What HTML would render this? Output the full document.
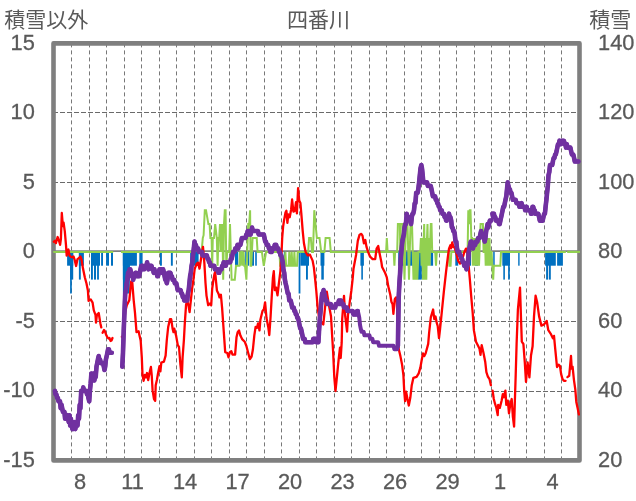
<!DOCTYPE html>
<html><head><meta charset="utf-8"><title>chart</title>
<style>html,body{margin:0;padding:0;background:#fff}body{width:636px;height:501px;overflow:hidden;font-family:"Liberation Sans",sans-serif}svg{display:block}</style>
</head><body>
<svg width="636" height="501" viewBox="0 0 636 501">
<rect width="636" height="501" fill="#fff"/>
<g stroke="#5a5a5a" stroke-width="1" fill="none">
<line x1="71.5" y1="43.4" x2="71.5" y2="460.4" stroke="#787878" stroke-dasharray="4 3"/>
<line x1="89.5" y1="43.4" x2="89.5" y2="460.4" stroke="#787878" stroke-dasharray="4 3"/>
<line x1="106.5" y1="43.4" x2="106.5" y2="460.4" stroke="#787878" stroke-dasharray="4 3"/>
<line x1="124.5" y1="43.4" x2="124.5" y2="460.4" stroke="#787878" stroke-dasharray="4 3"/>
<line x1="141.5" y1="43.4" x2="141.5" y2="460.4" stroke="#787878" stroke-dasharray="4 3"/>
<line x1="159.5" y1="43.4" x2="159.5" y2="460.4" stroke="#787878" stroke-dasharray="4 3"/>
<line x1="176.5" y1="43.4" x2="176.5" y2="460.4" stroke="#787878" stroke-dasharray="4 3"/>
<line x1="194.5" y1="43.4" x2="194.5" y2="460.4" stroke="#787878" stroke-dasharray="4 3"/>
<line x1="211.5" y1="43.4" x2="211.5" y2="460.4" stroke="#787878" stroke-dasharray="4 3"/>
<line x1="229.5" y1="43.4" x2="229.5" y2="460.4" stroke="#787878" stroke-dasharray="4 3"/>
<line x1="246.5" y1="43.4" x2="246.5" y2="460.4" stroke="#787878" stroke-dasharray="4 3"/>
<line x1="264.5" y1="43.4" x2="264.5" y2="460.4" stroke="#787878" stroke-dasharray="4 3"/>
<line x1="281.5" y1="43.4" x2="281.5" y2="460.4" stroke="#787878" stroke-dasharray="4 3"/>
<line x1="299.5" y1="43.4" x2="299.5" y2="460.4" stroke="#787878" stroke-dasharray="4 3"/>
<line x1="316.5" y1="43.4" x2="316.5" y2="460.4" stroke="#787878" stroke-dasharray="4 3"/>
<line x1="334.5" y1="43.4" x2="334.5" y2="460.4" stroke="#787878" stroke-dasharray="4 3"/>
<line x1="351.5" y1="43.4" x2="351.5" y2="460.4" stroke="#787878" stroke-dasharray="4 3"/>
<line x1="369.5" y1="43.4" x2="369.5" y2="460.4" stroke="#787878" stroke-dasharray="4 3"/>
<line x1="386.5" y1="43.4" x2="386.5" y2="460.4" stroke="#787878" stroke-dasharray="4 3"/>
<line x1="404.5" y1="43.4" x2="404.5" y2="460.4" stroke="#787878" stroke-dasharray="4 3"/>
<line x1="421.5" y1="43.4" x2="421.5" y2="460.4" stroke="#787878" stroke-dasharray="4 3"/>
<line x1="439.5" y1="43.4" x2="439.5" y2="460.4" stroke="#787878" stroke-dasharray="4 3"/>
<line x1="456.5" y1="43.4" x2="456.5" y2="460.4" stroke="#787878" stroke-dasharray="4 3"/>
<line x1="474.5" y1="43.4" x2="474.5" y2="460.4" stroke="#787878" stroke-dasharray="4 3"/>
<line x1="491.5" y1="43.4" x2="491.5" y2="460.4" stroke="#787878" stroke-dasharray="4 3"/>
<line x1="509.5" y1="43.4" x2="509.5" y2="460.4" stroke="#787878" stroke-dasharray="4 3"/>
<line x1="526.5" y1="43.4" x2="526.5" y2="460.4" stroke="#787878" stroke-dasharray="4 3"/>
<line x1="544.5" y1="43.4" x2="544.5" y2="460.4" stroke="#787878" stroke-dasharray="4 3"/>
<line x1="561.5" y1="43.4" x2="561.5" y2="460.4" stroke="#787878" stroke-dasharray="4 3"/>
<line x1="53" y1="112.5" x2="579.5" y2="112.5" stroke="#6a6a6a" stroke-dasharray="5 2"/>
<line x1="53" y1="182.5" x2="579.5" y2="182.5" stroke="#6a6a6a" stroke-dasharray="5 2"/>
<line x1="53" y1="321.5" x2="579.5" y2="321.5" stroke="#6a6a6a" stroke-dasharray="5 2"/>
<line x1="53" y1="391.5" x2="579.5" y2="391.5" stroke="#6a6a6a" stroke-dasharray="5 2"/>
</g>
<rect x="53.5" y="43.4" width="526.0" height="417.0" fill="none" stroke="#7f7f7f" stroke-width="4.6" stroke-linejoin="round"/>
<line x1="53.5" y1="251.1" x2="579.5" y2="251.1" stroke="#808080" stroke-width="1.6"/>
<g fill="#0070C0">
<rect x="67.1" y="251.8" width="6.1" height="13.9"/>
<rect x="70.1" y="251.8" width="3.1" height="27.8"/>
<rect x="70.1" y="251.8" width="1.7" height="41.7"/>
<rect x="78.9" y="251.8" width="5.0" height="13.9"/>
<rect x="78.9" y="251.8" width="1.9" height="27.8"/>
<rect x="91.0" y="251.8" width="9.0" height="13.9"/>
<rect x="91.0" y="251.8" width="1.9" height="27.8"/>
<rect x="94.0" y="251.8" width="2.0" height="27.8"/>
<rect x="97.1" y="251.8" width="1.8" height="27.8"/>
<rect x="101.1" y="251.8" width="1.9" height="13.9"/>
<rect x="106.1" y="251.8" width="2.9" height="13.9"/>
<rect x="111.0" y="251.8" width="2.0" height="13.9"/>
<rect x="122.9" y="251.8" width="14.0" height="13.9"/>
<rect x="122.9" y="251.8" width="6.9" height="27.8"/>
<rect x="122.9" y="251.8" width="6.9" height="41.7"/>
<rect x="139.3" y="251.8" width="3.3" height="13.9"/>
<rect x="160.0" y="251.8" width="1.9" height="13.9"/>
<rect x="170.9" y="251.8" width="1.9" height="13.9"/>
<rect x="190.4" y="251.8" width="8.2" height="13.9"/>
<rect x="190.4" y="251.8" width="2.0" height="27.8"/>
<rect x="235.0" y="251.8" width="3.2" height="13.9"/>
<rect x="245.2" y="251.8" width="1.6" height="13.9"/>
<rect x="247.6" y="251.8" width="1.6" height="13.9"/>
<rect x="252.0" y="251.8" width="2.0" height="13.9"/>
<rect x="255.2" y="251.8" width="1.6" height="13.9"/>
<rect x="283.8" y="251.8" width="1.6" height="13.9"/>
<rect x="298.6" y="251.8" width="1.8" height="41.7"/>
<rect x="300.4" y="251.8" width="8.6" height="13.9"/>
<rect x="306.0" y="251.8" width="1.9" height="27.8"/>
<rect x="320.5" y="251.8" width="3.9" height="13.9"/>
<rect x="321.3" y="251.8" width="2.5" height="27.8"/>
<rect x="360.4" y="251.8" width="3.5" height="13.9"/>
<rect x="361.3" y="251.8" width="1.6" height="27.8"/>
<rect x="398.2" y="251.8" width="21.2" height="13.9"/>
<rect x="418.0" y="251.8" width="3.8" height="27.8"/>
<rect x="430.3" y="251.8" width="2.8" height="13.9"/>
<rect x="455.3" y="251.8" width="2.9" height="13.9"/>
<rect x="469.8" y="251.8" width="1.2" height="13.9"/>
<rect x="475.0" y="251.8" width="3.2" height="13.9"/>
<rect x="493.2" y="251.8" width="1.5" height="13.9"/>
<rect x="502.3" y="251.8" width="7.7" height="13.9"/>
<rect x="503.3" y="251.8" width="1.6" height="27.8"/>
<rect x="508.1" y="251.8" width="1.7" height="27.8"/>
<rect x="518.2" y="251.8" width="1.4" height="13.9"/>
<rect x="545.1" y="251.8" width="10.7" height="13.9"/>
<rect x="546.1" y="251.8" width="2.0" height="27.8"/>
<rect x="548.9" y="251.8" width="1.9" height="27.8"/>
<rect x="557.1" y="251.8" width="5.8" height="13.9"/>
</g>
<g fill="none" stroke="#92D050" stroke-width="2.0" stroke-linejoin="miter" stroke-miterlimit="2">
<polyline points="53.5,251.9 113.1,251.9"/>
<polyline points="121.0,251.9 191.5,251.9"/>
<polyline points="201.6,251.9 202.8,238.0 203.6,235.2 204.8,210.2 206.0,210.2 208.4,224.1 209.6,224.1 210.4,238.0 211.6,238.0 212.2,265.8 212.8,238.0 214.0,238.0 215.2,224.1 216.8,238.0 217.6,265.8 218.4,238.0 219.2,238.0 220.0,224.1 220.6,251.9 221.2,224.1 221.8,251.9 222.4,224.1 223.2,279.7 224.0,224.1 224.8,210.2 225.6,210.2 226.3,265.8 227.2,251.9 229.2,251.9 230.0,224.1 230.8,251.9 231.6,279.7 234.8,279.7 236.0,265.8 239.4,265.8 240.0,251.9 240.7,265.8 241.4,251.9 242.2,251.9 242.9,265.8 243.6,251.9 244.3,265.8 245.0,265.8 246.4,279.7 247.3,251.9 248.2,224.1 249.2,224.1 250.1,210.2 250.6,265.8 251.2,265.8 251.9,251.9 252.6,238.0 256.7,238.0 257.6,251.9 261.9,251.9 263.8,265.8 266.1,251.9 278.6,251.9 279.4,251.9 280.2,265.8 284.7,265.8 285.4,251.9 286.1,265.8 288.6,265.8 289.3,251.9 290.0,265.8 291.0,265.8 291.7,251.9 292.4,265.8 293.7,265.8 294.4,251.9 295.1,265.8 297.0,265.8 297.7,251.9 298.4,251.9 308.2,251.9 309.1,238.0 310.8,238.0 312.0,251.9 313.0,251.9 314.3,210.2 315.5,224.1 316.9,238.0 319.5,238.0 321.2,251.9 324.4,251.9 325.6,238.0 329.6,238.0 330.8,251.9 386.1,251.9 386.8,238.0 387.6,251.9 393.7,251.9 394.4,265.8 395.1,251.9 397.2,251.9 397.9,224.1 399.9,224.1 400.4,265.8 400.8,224.1 402.9,224.1 404.5,279.7 406.0,224.1 407.5,224.1 409.0,279.7 410.5,224.1 412.0,224.1 413.5,279.7 414.5,251.9 415.5,279.7 416.5,251.9 417.3,279.7 418.5,251.9 420.2,251.9 420.9,238.0 421.6,265.8 422.3,238.0 423.0,279.7 423.7,238.0 424.2,224.1 424.9,279.7 425.6,238.0 426.3,279.7 427.0,238.0 427.5,224.1 428.2,265.8 428.9,238.0 429.6,265.8 430.3,238.0 430.8,224.1 431.5,224.1 432.2,251.9 435.2,251.9 436.0,265.8 436.8,251.9 448.7,251.9 449.4,265.8 450.6,265.8 451.3,251.9 467.6,251.9 468.3,210.2 469.0,224.1 469.8,210.2 470.5,210.2 471.3,238.0 472.1,238.0 472.8,265.8 473.5,238.0 474.2,265.8 475.0,238.0 475.7,265.8 476.5,238.0 477.2,265.8 478.0,238.0 479.0,265.8 480.0,238.0 480.6,224.1 482.9,224.1 483.6,251.9 484.3,251.9 485.0,238.0 485.7,265.8 486.5,238.0 487.2,265.8 488.0,238.0 488.7,265.8 489.5,238.0 490.2,265.8 491.0,251.9 491.6,251.9 492.3,265.8 493.2,279.7 493.8,265.8 500.3,265.8 501.0,251.9 565.7,251.9"/>
<polyline points="567.3,251.9 580.0,251.9"/>
</g>
<g fill="none" stroke="#92D050" stroke-width="1.9">
<line x1="53.5" y1="251.9" x2="113.1" y2="251.9"/>
<line x1="121.0" y1="251.9" x2="191.5" y2="251.9"/>
<line x1="227.2" y1="251.9" x2="229.2" y2="251.9"/>
<line x1="241.4" y1="251.9" x2="242.2" y2="251.9"/>
<line x1="257.6" y1="251.9" x2="261.9" y2="251.9"/>
<line x1="266.1" y1="251.9" x2="278.6" y2="251.9"/>
<line x1="278.6" y1="251.9" x2="279.4" y2="251.9"/>
<line x1="297.7" y1="251.9" x2="298.4" y2="251.9"/>
<line x1="298.4" y1="251.9" x2="308.2" y2="251.9"/>
<line x1="312.0" y1="251.9" x2="313.0" y2="251.9"/>
<line x1="321.2" y1="251.9" x2="324.4" y2="251.9"/>
<line x1="330.8" y1="251.9" x2="386.1" y2="251.9"/>
<line x1="387.6" y1="251.9" x2="393.7" y2="251.9"/>
<line x1="395.1" y1="251.9" x2="397.2" y2="251.9"/>
<line x1="418.5" y1="251.9" x2="420.2" y2="251.9"/>
<line x1="432.2" y1="251.9" x2="435.2" y2="251.9"/>
<line x1="436.8" y1="251.9" x2="448.7" y2="251.9"/>
<line x1="451.3" y1="251.9" x2="467.6" y2="251.9"/>
<line x1="483.6" y1="251.9" x2="484.3" y2="251.9"/>
<line x1="491.0" y1="251.9" x2="491.6" y2="251.9"/>
<line x1="501.0" y1="251.9" x2="565.7" y2="251.9"/>
<line x1="567.3" y1="251.9" x2="580.0" y2="251.9"/>
</g>
<g fill="none" stroke="#FF0000" stroke-width="2.3" stroke-linejoin="round" stroke-linecap="round">
<polyline points="53.8,241.7 55.2,240.8 55.9,243.1 57.6,237.0 59.0,240.8 60.1,244.8 60.9,239.1 61.8,213.0 62.9,226.1 63.6,222.6 64.8,231.3 66.0,245.2 66.7,255.6 67.4,252.1 68.4,249.5 69.5,255.6 71.7,257.3 73.5,256.5 74.7,259.9 76.1,266.0 77.5,259.1 78.8,258.2 80.4,256.5 81.6,259.9 83.0,268.6 84.8,277.3 86.5,283.5 87.9,290.4 88.6,300.9 90.8,299.5 92.6,302.6 93.8,310.4 95.5,314.8 96.0,322.6 96.9,314.8 98.7,313.0 100.4,323.4 101.3,327.4"/>
<polyline points="102.6,332.8 104.0,330.0 105.0,331.5 106.0,334.5 107.5,337.5 108.5,338.5 109.5,338.0 110.5,341.0 111.5,340.5 112.5,338.0"/>
<polyline points="121.8,336.8 122.5,337.3"/>
<polyline points="123.5,330.0 125.2,312.0 126.8,305.3 129.3,300.3 131.2,281.4 132.3,282.5 133.7,300.3 135.0,312.9 136.5,332.1 138.6,331.3 139.5,335.6 140.7,340.8 141.8,357.4 142.5,374.8 143.6,380.8 144.8,374.8 146.0,377.4 147.0,373.0 148.2,380.0 149.5,373.0 150.9,366.9 151.7,374.8 152.6,390.4 154.0,399.1 155.2,400.8 155.7,385.2 156.9,380.0 158.1,373.0 159.5,366.1 160.4,371.3 161.3,362.6 163.9,361.7 165.6,355.6 166.8,340.0 168.2,326.9 170.0,319.1 171.2,319.1 172.6,328.7 173.5,332.1 174.3,328.7 176.1,335.6 177.8,345.2 179.0,347.0 180.4,364.3 181.8,377.4 182.6,357.4 183.9,340.0 184.8,323.4 186.1,304.3 187.4,300.9 188.6,306.1 189.6,312.1 190.8,300.9 192.1,288.7 193.4,280.0 194.7,268.9 196.6,263.8 198.0,262.6 199.5,268.6 201.3,257.3 203.0,246.9 204.4,263.6 205.5,283.0 206.5,295.6 208.2,305.2 209.9,303.5 211.2,305.2 212.2,288.7 213.4,280.0 214.5,274.0 215.2,272.0 215.9,280.0 216.9,290.4 218.6,293.9 219.5,297.4 220.9,294.8 222.1,307.8 223.8,332.1 225.2,352.2 227.3,353.0 228.5,357.3 229.9,352.1 231.3,351.2 232.5,354.7 235.1,354.7 236.5,337.3 237.7,332.1 239.0,330.4 240.4,335.6 242.1,339.1 244.7,341.7 246.4,346.0 248.2,353.0 249.9,359.1 251.6,356.5 252.9,349.5 254.3,335.6 255.6,326.9 256.9,327.8 258.1,323.4 259.5,330.4 260.4,319.7 262.5,311.0 263.9,309.3 265.1,302.3 266.5,318.0 268.2,326.7 269.3,335.0 270.5,318.0 271.7,297.1 272.9,278.0 273.8,271.1 274.8,290.2 276.1,287.6 277.5,295.4 278.7,285.0 280.4,271.1 281.5,253.7 282.2,238.0 283.1,226.7 284.1,220.1 285.5,212.5 286.4,210.7 287.4,222.9 288.3,214.4 289.7,217.3 291.1,209.7 292.1,199.5 293.4,211.7 294.8,210.8 296.0,202.1 296.9,213.4 298.1,188.2 299.2,200.4 300.4,203.0 301.3,213.4 302.7,230.8 303.9,243.0 305.6,252.0 307.7,255.4 309.9,254.6 312.6,260.6 313.9,267.6 315.2,279.8 316.3,291.0 317.7,307.8 319.1,317.6 321.0,322.0 323.3,324.5 325.0,308.0 326.8,291.7 328.9,305.0 331.0,316.2 332.4,340.0 333.1,351.1 334.3,377.1 335.5,391.0 336.9,377.1 338.6,359.8 340.0,347.6 340.7,358.0 341.7,342.4 342.2,319.0 344.0,295.9 345.2,316.2 347.1,331.5 348.0,314.8 349.9,300.8 351.3,291.0 352.7,278.4 353.5,268.7 356.1,254.7 357.8,240.8 359.6,234.7 361.3,233.9 362.5,235.6 363.9,243.4 365.3,240.0 366.5,246.9 368.2,252.1 370.0,256.5 372.6,259.1 375.2,259.1 376.6,248.6 378.2,246.0 379.5,253.0 381.3,261.7 382.1,267.0 384.8,272.2 386.8,277.4 388.2,286.1 390.3,294.8 391.4,301.7 392.6,304.3 393.4,313.9 394.8,299.1 396.0,297.4 396.9,301.7 397.8,330.0 398.7,349.1 400.4,356.1 402.1,364.8 403.4,375.2 404.2,390.8 405.1,401.2 406.1,391.7 407.4,398.6 408.8,405.6 410.3,397.8 411.7,385.6 413.4,377.8 416.6,376.9 418.7,373.4 420.4,367.4 421.8,359.5 423.0,353.5 424.2,356.1 425.6,353.5 428.2,343.9 429.1,333.0 430.8,317.3 433.1,309.5 434.3,319.1 435.5,316.5 436.9,323.4 437.7,326.0 439.0,338.2 440.0,329.5 441.7,313.0 443.8,292.1 446.1,271.3 447.8,257.4 449.0,248.7 450.4,245.2 451.0,248.4 452.3,242.3 453.3,247.0 454.5,247.0 456.5,253.9 458.2,260.9 460.0,263.5 461.7,260.9 464.3,252.2 466.0,248.6 467.5,253.9 468.7,266.1 469.9,280.0 471.3,297.3 472.7,313.0 473.9,330.4 476.0,341.7 478.2,346.1 479.5,348.7 480.5,354.8 481.7,345.2 483.5,353.0 485.2,361.7 486.4,372.1 487.8,376.5 489.5,379.1 490.9,385.2"/>
<polyline points="492.6,390.6 493.8,399.0 495.0,403.7 496.2,407.3 497.7,415.1 498.2,404.9 499.8,407.9 501.6,400.7 502.8,394.2 504.0,397.2 505.4,390.6 506.3,404.9 507.8,400.7 509.0,413.3 510.2,404.9 511.7,399.0 512.9,416.9 514.1,426.5 514.9,400.0 515.7,375.0 516.6,344.0 517.9,309.5 520.0,287.6 521.1,321.0 521.8,341.7 523.4,344.0 524.8,362.4 526.0,381.9 527.6,362.4 529.4,377.3 531.0,355.5 532.6,346.3 534.0,316.4 535.6,295.7 537.2,302.6 539.1,316.4 541.4,325.6 544.1,324.4 546.7,321.0 548.3,330.2 550.6,333.6 552.9,338.2 554.0,335.9 555.2,348.6 557.0,367.0 558.6,364.7 560.0,366.0 561.1,373.9 562.5,379.1 563.9,380.8 565.6,380.8"/>
<polyline points="567.4,377.1 569.2,375.8 570.1,365.9 571.0,356.0 571.7,368.6 572.6,366.8 574.0,380.3 575.3,389.3 576.3,401.9 577.6,408.1 578.9,414.4"/>
</g>
<g fill="none" stroke="#7030A0" stroke-linejoin="round" stroke-linecap="round">
<polyline stroke-width="4.0" points="54.9,390.9 55.6,394.4 56.4,394.4 57.1,397.8 57.8,397.8 58.5,401.3 59.3,401.3 60.0,401.3 60.7,408.3 61.5,404.8 62.2,408.3 62.9,411.8 63.6,411.8 64.4,411.8 65.1,418.7 65.8,418.7 66.6,418.7 67.3,415.2 68.0,418.7 68.8,422.2 69.5,415.2 70.2,425.6 70.9,418.7 71.7,425.6 72.4,429.1 73.1,429.1 73.9,425.6 74.6,422.2 75.3,429.1 76.0,425.6 76.8,425.6 77.5,425.6 78.2,415.2 79.0,418.7 79.7,404.8 80.4,408.3 81.2,390.9 81.9,390.9 82.6,390.9 83.3,387.4 84.1,390.9 84.8,390.9 85.5,390.9 86.3,390.9 87.0,394.4 87.7,394.4 88.4,397.8 89.2,401.3 89.9,390.9 90.6,383.9 91.4,373.5 92.1,377.0 92.8,377.0 93.5,373.5 94.3,380.5 95.0,377.0 95.7,377.0 96.5,366.6 97.2,363.1 97.9,359.6 98.7,356.1 99.4,359.6 100.1,359.6 100.8,363.1 101.6,363.1 102.3,363.1 103.0,363.1 103.8,366.6 104.5,370.0 105.2,366.6 105.9,359.6 106.7,356.1 107.4,352.7 108.1,349.2 108.9,349.2 109.6,352.7 110.3,352.7 111.0,352.7 111.8,352.7"/>
<polyline stroke-width="4.6" points="54.9,390.9 55.6,394.4 56.4,394.4 57.1,397.8 57.8,397.8 58.5,401.3 59.3,401.3 60.0,401.3 60.7,408.3 61.5,404.8 62.2,408.3 62.9,411.8 63.6,411.8 64.4,411.8 65.1,418.7 65.8,418.7 66.6,418.7 67.3,415.2 68.0,418.7 68.8,422.2 69.5,415.2 70.2,425.6 70.9,418.7 71.7,425.6 72.4,429.1 73.1,429.1 73.9,425.6 74.6,422.2 75.3,429.1 76.0,425.6 76.8,425.6 77.5,425.6 78.2,415.2 79.0,418.7 79.7,404.8 80.4,408.3 81.2,390.9 81.9,390.9 82.6,390.9 83.3,387.4 84.1,390.9 84.8,390.9 85.5,390.9 86.3,390.9 87.0,394.4 87.7,394.4 88.4,397.8 89.2,401.3 89.9,390.9 90.6,383.9 91.4,373.5 92.1,377.0 92.8,377.0 93.5,373.5 94.3,380.5 95.0,377.0 95.7,377.0 96.5,366.6 97.2,363.1 97.9,359.6 98.7,356.1 99.4,359.6 100.1,359.6 100.8,363.1 101.6,363.1 102.3,363.1 103.0,363.1 103.8,366.6 104.5,370.0 105.2,366.6 105.9,359.6 106.7,356.1 107.4,352.7 108.1,349.2 108.9,349.2 109.6,352.7 110.3,352.7 111.0,352.7 111.8,352.7"/>
<polyline stroke-width="4.0" points="122.3,366.6 123.0,352.7 123.8,328.3 124.5,311.0 125.2,293.6 125.9,290.1 126.7,283.2 127.4,279.7 128.1,272.8 128.9,272.8 129.6,269.3 130.3,269.3 131.0,272.8 131.8,276.2 132.5,276.2 133.2,279.7 134.0,276.2 134.7,276.2 135.4,272.8 136.2,272.8 136.9,276.2 137.6,276.2 138.3,276.2 139.1,276.2 139.8,272.8 140.5,269.3 141.3,265.8 142.0,265.8 142.7,265.8 143.4,269.3 144.2,269.3 144.9,265.8 145.6,265.8 146.4,265.8 147.1,262.3 147.8,265.8 148.5,269.3 149.3,265.8 150.0,265.8 150.7,265.8 151.5,265.8 152.2,269.3 152.9,269.3 153.7,272.8 154.4,269.3 155.1,272.8 155.8,272.8 156.6,272.8 157.3,276.2 158.0,276.2 158.8,272.8 159.5,269.3 160.2,269.3 160.9,269.3 161.7,269.3 162.4,272.8 163.1,269.3 163.9,272.8 164.6,276.2 165.3,279.7 166.0,279.7 166.8,283.2 167.5,279.7 168.2,272.8 169.0,272.8 169.7,272.8 170.4,272.8 171.2,276.2 171.9,276.2 172.6,279.7 173.3,279.7 174.1,279.7 174.8,283.2 175.5,283.2 176.3,283.2 177.0,286.6 177.7,290.1 178.4,290.1 179.2,290.1 179.9,290.1 180.6,290.1 181.4,293.6 182.1,293.6 182.8,297.1 183.5,297.1 184.3,300.5 185.0,297.1 185.7,300.5 186.5,300.5 187.2,300.5 187.9,293.6 188.7,290.1 189.4,283.2 190.1,276.2 190.8,272.8 191.6,265.8 192.3,262.3 193.0,255.4 193.8,248.4 194.5,241.5 195.2,244.9 195.9,244.9 196.7,248.4 197.4,248.4 198.1,248.4 198.9,251.9 199.6,251.9 200.3,251.9 201.0,251.9 201.8,251.9 202.5,255.4 203.2,255.4 204.0,255.4 204.7,255.4 205.4,255.4 206.2,255.4 206.9,255.4 207.6,258.8 208.3,258.8 209.1,262.3 209.8,262.3 210.5,265.8 211.3,265.8 212.0,265.8 212.7,265.8 213.4,265.8 214.2,265.8 214.9,269.3 215.6,269.3 216.4,269.3 217.1,269.3 217.8,269.3 218.5,272.8 219.3,272.8 220.0,269.3 220.7,269.3 221.5,269.3 222.2,265.8 222.9,265.8 223.7,262.3 224.4,265.8 225.1,265.8 225.8,265.8 226.6,262.3 227.3,262.3 228.0,262.3 228.8,262.3 229.5,262.3 230.2,262.3 230.9,258.8 231.7,258.8 232.4,255.4 233.1,251.9 233.9,251.9 234.6,251.9 235.3,248.4 236.0,248.4 236.8,248.4 237.5,244.9 238.2,248.4 239.0,244.9 239.7,244.9 240.4,244.9 241.2,241.5 241.9,238.0 242.6,238.0 243.3,238.0 244.1,238.0 244.8,238.0 245.5,238.0 246.3,234.5 247.0,234.5 247.7,231.0 248.4,231.0 249.2,234.5 249.9,231.0 250.6,234.5 251.4,231.0 252.1,227.6 252.8,231.0 253.5,231.0 254.3,231.0 255.0,231.0 255.7,231.0 256.5,231.0 257.2,231.0 257.9,231.0 258.7,234.5 259.4,234.5 260.1,234.5 260.8,234.5 261.6,234.5 262.3,234.5 263.0,234.5 263.8,234.5 264.5,238.0 265.2,241.5 265.9,241.5 266.7,244.9 267.4,244.9 268.1,244.9 268.9,248.4 269.6,248.4 270.3,251.9 271.0,248.4 271.8,251.9 272.5,248.4 273.2,248.4 274.0,248.4 274.7,244.9 275.4,244.9 276.2,244.9 276.9,248.4 277.6,248.4 278.3,248.4 279.1,251.9 279.8,251.9 280.5,255.4 281.3,255.4 282.0,258.8 282.7,262.3 283.4,269.3 284.2,272.8 284.9,279.7 285.6,283.2 286.4,286.6 287.1,290.1 287.8,293.6 288.5,293.6 289.3,300.5 290.0,300.5 290.7,300.5 291.5,304.0 292.2,307.5 292.9,307.5 293.7,307.5 294.4,311.0 295.1,311.0 295.8,314.4 296.6,314.4 297.3,317.9 298.0,317.9 298.8,321.4 299.5,324.9 300.2,328.3 300.9,328.3 301.7,331.8 302.4,335.3 303.1,338.8 303.9,338.8 304.6,338.8 305.3,342.2 306.0,342.2 306.8,342.2 307.5,342.2 308.2,342.2 309.0,342.2 309.7,342.2 310.4,342.2 311.2,342.2 311.9,342.2 312.6,342.2 313.3,338.8 314.1,338.8 314.8,338.8 315.5,338.8 316.3,342.2 317.0,342.2 317.7,342.2 318.4,342.2 319.2,328.3 319.9,317.9 320.6,311.0 321.4,300.5 322.1,293.6 322.8,293.6 323.6,290.1 324.3,293.6 325.0,297.1 325.7,300.5 326.5,300.5 327.2,304.0 327.9,304.0 328.7,304.0 329.4,304.0 330.1,304.0 330.8,304.0 331.6,307.5 332.3,307.5 333.0,307.5 333.8,307.5 334.5,307.5 335.2,307.5 335.9,304.0 336.7,304.0 337.4,304.0 338.1,304.0 338.9,300.5 339.6,304.0 340.3,300.5 341.1,300.5 341.8,304.0 342.5,304.0 343.2,304.0 344.0,307.5 344.7,307.5 345.4,307.5 346.2,307.5 346.9,307.5 347.6,311.0 348.3,311.0 349.1,311.0 349.8,311.0 350.5,311.0 351.3,311.0 352.0,311.0 352.7,311.0 353.4,314.4 354.2,314.4 354.9,314.4 355.6,314.4 356.4,314.4 357.1,311.0 357.8,311.0 358.6,314.4 359.3,317.9 360.0,324.9 360.7,328.3 361.5,331.8 362.2,331.8 362.9,331.8 363.7,331.8 364.4,335.3 365.1,335.3 365.8,335.3 366.6,335.3 367.3,335.3 368.0,335.3 368.8,335.3 369.5,335.3 370.2,338.8 370.9,338.8 371.7,338.8 372.4,338.8 373.1,342.2 373.9,342.2 374.6,342.2 375.3,342.2 376.1,342.2 376.8,342.2 377.5,342.2 378.2,342.2 379.0,345.7 379.7,345.7 380.4,345.7 381.2,345.7 381.9,345.7 382.6,345.7 383.3,345.7 384.1,345.7 384.8,345.7 385.5,345.7 386.3,345.7 387.0,345.7 387.7,345.7 388.4,345.7 389.2,345.7 389.9,345.7 390.6,345.7 391.4,345.7 392.1,345.7 392.8,345.7 393.6,345.7 394.3,349.2 395.0,349.2 395.7,349.2 396.5,349.2 397.2,349.2 397.9,345.7 398.7,297.1 399.4,283.2 400.1,272.8 400.8,258.8 401.6,248.4 402.3,241.5 403.0,238.0 403.8,234.5 404.5,227.6 405.2,224.1 405.9,224.1 406.7,213.7 407.4,217.1 408.1,217.1 408.9,217.1 409.6,217.1 410.3,220.6 411.1,224.1 411.8,217.1 412.5,213.7 413.2,213.7 414.0,210.2 414.7,203.2 415.4,203.2 416.2,192.8 416.9,192.8 417.6,192.8 418.3,189.3 419.1,182.4 419.8,175.4 420.5,168.5 421.3,165.0 422.0,168.5 422.7,175.4 423.4,182.4 424.2,182.4 424.9,182.4 425.6,182.4 426.4,182.4 427.1,182.4 427.8,185.9 428.6,185.9 429.3,185.9 430.0,185.9 430.7,185.9 431.5,189.3 432.2,192.8 432.9,196.3 433.7,196.3 434.4,196.3 435.1,196.3 435.8,199.8 436.6,199.8 437.3,203.2 438.0,203.2 438.8,206.7 439.5,206.7 440.2,210.2 440.9,210.2 441.7,210.2 442.4,213.7 443.1,213.7 443.9,213.7 444.6,217.1 445.3,217.1 446.1,220.6 446.8,220.6 447.5,217.1 448.2,217.1 449.0,213.7 449.7,217.1 450.4,217.1 451.2,220.6 451.9,227.6 452.6,227.6 453.3,231.0 454.1,231.0 454.8,234.5 455.5,241.5 456.3,241.5 457.0,248.4 457.7,251.9 458.4,251.9 459.2,251.9 459.9,255.4 460.6,255.4 461.4,258.8 462.1,258.8 462.8,262.3 463.6,262.3 464.3,265.8 465.0,265.8 465.7,265.8 466.5,269.3 467.2,265.8 467.9,262.3 468.7,251.9 469.4,248.4 470.1,244.9 470.8,241.5 471.6,241.5 472.3,244.9 473.0,248.4 473.8,244.9 474.5,244.9 475.2,244.9 475.9,241.5 476.7,241.5 477.4,241.5 478.1,238.0 478.9,238.0 479.6,238.0 480.3,234.5 481.1,231.0 481.8,234.5 482.5,234.5 483.2,234.5 484.0,238.0 484.7,241.5 485.4,238.0 486.2,231.0 486.9,227.6 487.6,224.1 488.3,227.6 489.1,224.1 489.8,220.6 490.5,220.6 491.3,220.6"/>
<polyline stroke-width="4.6" points="122.3,366.6 123.0,352.7 123.8,328.3 124.5,311.0 125.2,293.6 125.9,290.1 126.7,283.2 127.4,279.7 128.1,272.8 128.9,272.8 129.6,269.3 130.3,269.3 131.0,272.8 131.8,276.2 132.5,276.2 133.2,279.7 134.0,276.2 134.7,276.2 135.4,272.8 136.2,272.8 136.9,276.2 137.6,276.2 138.3,276.2 139.1,276.2 139.8,272.8 140.5,269.3 141.3,265.8 142.0,265.8 142.7,265.8 143.4,269.3 144.2,269.3 144.9,265.8 145.6,265.8 146.4,265.8 147.1,262.3 147.8,265.8 148.5,269.3 149.3,265.8 150.0,265.8 150.7,265.8 151.5,265.8 152.2,269.3 152.9,269.3 153.7,272.8 154.4,269.3 155.1,272.8 155.8,272.8 156.6,272.8 157.3,276.2 158.0,276.2 158.8,272.8 159.5,269.3 160.2,269.3 160.9,269.3 161.7,269.3 162.4,272.8 163.1,269.3 163.9,272.8 164.6,276.2 165.3,279.7 166.0,279.7 166.8,283.2 167.5,279.7 168.2,272.8 169.0,272.8 169.7,272.8 170.4,272.8 171.2,276.2 171.9,276.2 172.6,279.7 173.3,279.7 174.1,279.7 174.8,283.2 175.5,283.2 176.3,283.2 177.0,286.6 177.7,290.1 178.4,290.1 179.2,290.1 179.9,290.1 180.6,290.1 181.4,293.6 182.1,293.6 182.8,297.1 183.5,297.1 184.3,300.5 185.0,297.1 185.7,300.5 186.5,300.5 187.2,300.5 187.9,293.6 188.7,290.1 189.4,283.2 190.1,276.2 190.8,272.8 191.6,265.8 192.3,262.3 193.0,255.4 193.8,248.4 194.5,241.5 195.2,244.9 195.9,244.9 196.7,248.4 197.4,248.4 198.1,248.4 198.9,251.9 199.6,251.9 200.3,251.9 201.0,251.9 201.8,251.9 202.5,255.4 203.2,255.4 204.0,255.4 204.7,255.4 205.4,255.4 206.2,255.4 206.9,255.4 207.6,258.8 208.3,258.8 209.1,262.3 209.8,262.3 210.5,265.8 211.3,265.8 212.0,265.8 212.7,265.8 213.4,265.8 214.2,265.8 214.9,269.3 215.6,269.3 216.4,269.3 217.1,269.3 217.8,269.3 218.5,272.8 219.3,272.8 220.0,269.3 220.7,269.3 221.5,269.3 222.2,265.8 222.9,265.8 223.7,262.3 224.4,265.8 225.1,265.8 225.8,265.8 226.6,262.3 227.3,262.3 228.0,262.3 228.8,262.3 229.5,262.3 230.2,262.3 230.9,258.8 231.7,258.8 232.4,255.4 233.1,251.9 233.9,251.9 234.6,251.9 235.3,248.4 236.0,248.4 236.8,248.4 237.5,244.9 238.2,248.4 239.0,244.9 239.7,244.9 240.4,244.9 241.2,241.5 241.9,238.0 242.6,238.0 243.3,238.0 244.1,238.0 244.8,238.0 245.5,238.0 246.3,234.5 247.0,234.5 247.7,231.0 248.4,231.0 249.2,234.5 249.9,231.0 250.6,234.5 251.4,231.0 252.1,227.6 252.8,231.0 253.5,231.0 254.3,231.0 255.0,231.0 255.7,231.0 256.5,231.0 257.2,231.0 257.9,231.0 258.7,234.5 259.4,234.5 260.1,234.5 260.8,234.5 261.6,234.5 262.3,234.5 263.0,234.5 263.8,234.5 264.5,238.0 265.2,241.5 265.9,241.5 266.7,244.9 267.4,244.9 268.1,244.9 268.9,248.4 269.6,248.4 270.3,251.9 271.0,248.4 271.8,251.9 272.5,248.4 273.2,248.4 274.0,248.4 274.7,244.9 275.4,244.9 276.2,244.9 276.9,248.4 277.6,248.4 278.3,248.4 279.1,251.9 279.8,251.9 280.5,255.4 281.3,255.4 282.0,258.8 282.7,262.3 283.4,269.3 284.2,272.8 284.9,279.7 285.6,283.2 286.4,286.6 287.1,290.1 287.8,293.6 288.5,293.6 289.3,300.5 290.0,300.5 290.7,300.5 291.5,304.0 292.2,307.5 292.9,307.5 293.7,307.5 294.4,311.0 295.1,311.0 295.8,314.4 296.6,314.4 297.3,317.9 298.0,317.9 298.8,321.4 299.5,324.9 300.2,328.3 300.9,328.3 301.7,331.8 302.4,335.3 303.1,338.8 303.9,338.8 304.6,338.8 305.3,342.2 306.0,342.2 306.8,342.2 307.5,342.2 308.2,342.2 309.0,342.2 309.7,342.2 310.4,342.2 311.2,342.2 311.9,342.2 312.6,342.2 313.3,338.8 314.1,338.8 314.8,338.8 315.5,338.8 316.3,342.2 317.0,342.2 317.7,342.2 318.4,342.2 319.2,328.3 319.9,317.9 320.6,311.0 321.4,300.5 322.1,293.6 322.8,293.6 323.6,290.1 324.3,293.6 325.0,297.1 325.7,300.5 326.5,300.5 327.2,304.0 327.9,304.0 328.7,304.0 329.4,304.0 330.1,304.0 330.8,304.0 331.6,307.5 332.3,307.5 333.0,307.5 333.8,307.5 334.5,307.5 335.2,307.5 335.9,304.0 336.7,304.0 337.4,304.0 338.1,304.0 338.9,300.5 339.6,304.0 340.3,300.5 341.1,300.5 341.8,304.0 342.5,304.0 343.2,304.0 344.0,307.5 344.7,307.5 345.4,307.5 346.2,307.5 346.9,307.5 347.6,311.0 348.3,311.0 349.1,311.0 349.8,311.0 350.5,311.0 351.3,311.0 352.0,311.0 352.7,311.0 353.4,314.4 354.2,314.4 354.9,314.4 355.6,314.4 356.4,314.4 357.1,311.0 357.8,311.0"/>
<polyline stroke-width="4.6" points="397.9,345.7 398.7,297.1 399.4,283.2 400.1,272.8 400.8,258.8 401.6,248.4 402.3,241.5 403.0,238.0 403.8,234.5 404.5,227.6 405.2,224.1 405.9,224.1 406.7,213.7 407.4,217.1 408.1,217.1 408.9,217.1 409.6,217.1 410.3,220.6 411.1,224.1 411.8,217.1 412.5,213.7 413.2,213.7 414.0,210.2 414.7,203.2 415.4,203.2 416.2,192.8 416.9,192.8 417.6,192.8 418.3,189.3 419.1,182.4 419.8,175.4 420.5,168.5 421.3,165.0 422.0,168.5 422.7,175.4 423.4,182.4 424.2,182.4 424.9,182.4 425.6,182.4 426.4,182.4 427.1,182.4 427.8,185.9 428.6,185.9 429.3,185.9 430.0,185.9 430.7,185.9 431.5,189.3 432.2,192.8 432.9,196.3 433.7,196.3 434.4,196.3 435.1,196.3 435.8,199.8 436.6,199.8 437.3,203.2 438.0,203.2 438.8,206.7 439.5,206.7 440.2,210.2 440.9,210.2 441.7,210.2 442.4,213.7 443.1,213.7 443.9,213.7 444.6,217.1 445.3,217.1 446.1,220.6 446.8,220.6 447.5,217.1 448.2,217.1 449.0,213.7 449.7,217.1 450.4,217.1 451.2,220.6 451.9,227.6 452.6,227.6 453.3,231.0 454.1,231.0 454.8,234.5 455.5,241.5 456.3,241.5 457.0,248.4 457.7,251.9 458.4,251.9 459.2,251.9 459.9,255.4 460.6,255.4 461.4,258.8 462.1,258.8 462.8,262.3 463.6,262.3 464.3,265.8 465.0,265.8 465.7,265.8 466.5,269.3 467.2,265.8 467.9,262.3 468.7,251.9 469.4,248.4 470.1,244.9 470.8,241.5 471.6,241.5 472.3,244.9 473.0,248.4 473.8,244.9 474.5,244.9 475.2,244.9 475.9,241.5 476.7,241.5 477.4,241.5 478.1,238.0 478.9,238.0 479.6,238.0 480.3,234.5 481.1,231.0 481.8,234.5 482.5,234.5 483.2,234.5 484.0,238.0 484.7,241.5 485.4,238.0 486.2,231.0 486.9,227.6 487.6,224.1 488.3,227.6 489.1,224.1 489.8,220.6 490.5,220.6 491.3,220.6"/>
<polyline stroke-width="4.0" points="492.4,213.7 493.1,217.1 493.9,213.7 494.6,217.1 495.3,217.1 496.0,220.6 496.8,220.6 497.5,220.6 498.2,220.6 499.0,224.1 499.7,224.1 500.4,220.6 501.2,217.1 501.9,213.7 502.6,210.2 503.3,206.7 504.1,206.7 504.8,203.2 505.5,199.8 506.3,196.3 507.0,189.3 507.7,182.4 508.4,185.9 509.2,189.3 509.9,189.3 510.6,192.8 511.4,192.8 512.1,196.3 512.8,199.8 513.5,199.8 514.3,199.8 515.0,199.8 515.7,199.8 516.5,203.2 517.2,203.2 517.9,203.2 518.7,203.2 519.4,206.7 520.1,206.7 520.8,206.7 521.6,203.2 522.3,206.7 523.0,206.7 523.8,206.7 524.5,206.7 525.2,210.2 525.9,206.7 526.7,206.7 527.4,210.2 528.1,210.2 528.9,210.2 529.6,210.2 530.3,210.2 531.0,213.7 531.8,213.7 532.5,206.7 533.2,206.7 534.0,210.2 534.7,210.2 535.4,213.7 536.1,213.7 536.9,213.7 537.6,213.7 538.3,213.7 539.1,217.1 539.8,220.6 540.5,220.6 541.3,220.6 542.0,220.6 542.7,220.6 543.4,217.1 544.2,213.7 544.9,213.7 545.6,206.7 546.4,199.8 547.1,192.8 547.8,185.9 548.5,175.4 549.3,172.0 550.0,165.0 550.7,165.0 551.5,165.0 552.2,165.0 552.9,161.5 553.6,158.1 554.4,158.1 555.1,154.6 555.8,154.6 556.6,151.1 557.3,147.6 558.0,144.2 558.8,144.2 559.5,140.7 560.2,144.2 560.9,144.2 561.7,140.7 562.4,140.7 563.1,140.7 563.9,140.7 564.6,144.2 565.3,144.2 566.0,147.6 566.8,144.2 567.5,147.6 568.2,147.6 569.0,147.6 569.7,147.6 570.4,147.6 571.1,151.1 571.9,154.6 572.6,154.6 573.3,154.6 574.1,158.1 574.8,161.5 575.5,161.5 576.3,161.5 577.0,161.5 577.7,161.5 578.4,161.5"/>
<polyline stroke-width="4.6" points="492.4,213.7 493.1,217.1 493.9,213.7 494.6,217.1 495.3,217.1 496.0,220.6 496.8,220.6 497.5,220.6 498.2,220.6 499.0,224.1 499.7,224.1 500.4,220.6 501.2,217.1 501.9,213.7 502.6,210.2 503.3,206.7 504.1,206.7 504.8,203.2 505.5,199.8 506.3,196.3 507.0,189.3 507.7,182.4 508.4,185.9 509.2,189.3 509.9,189.3 510.6,192.8 511.4,192.8 512.1,196.3 512.8,199.8 513.5,199.8 514.3,199.8 515.0,199.8 515.7,199.8 516.5,203.2 517.2,203.2 517.9,203.2 518.7,203.2 519.4,206.7 520.1,206.7 520.8,206.7 521.6,203.2 522.3,206.7 523.0,206.7 523.8,206.7 524.5,206.7 525.2,210.2 525.9,206.7 526.7,206.7 527.4,210.2 528.1,210.2 528.9,210.2 529.6,210.2 530.3,210.2 531.0,213.7 531.8,213.7 532.5,206.7 533.2,206.7 534.0,210.2 534.7,210.2 535.4,213.7 536.1,213.7 536.9,213.7 537.6,213.7 538.3,213.7 539.1,217.1 539.8,220.6 540.5,220.6 541.3,220.6 542.0,220.6 542.7,220.6 543.4,217.1 544.2,213.7 544.9,213.7 545.6,206.7 546.4,199.8 547.1,192.8 547.8,185.9 548.5,175.4 549.3,172.0 550.0,165.0 550.7,165.0 551.5,165.0 552.2,165.0 552.9,161.5 553.6,158.1 554.4,158.1 555.1,154.6 555.8,154.6 556.6,151.1 557.3,147.6 558.0,144.2 558.8,144.2 559.5,140.7 560.2,144.2 560.9,144.2 561.7,140.7 562.4,140.7 563.1,140.7 563.9,140.7 564.6,144.2 565.3,144.2 566.0,147.6 566.8,144.2 567.5,147.6 568.2,147.6 569.0,147.6 569.7,147.6 570.4,147.6 571.1,151.1 571.9,154.6 572.6,154.6 573.3,154.6 574.1,158.1 574.8,161.5 575.5,161.5 576.3,161.5 577.0,161.5 577.7,161.5 578.4,161.5"/>
</g>
<defs><filter id="gs" x="0" y="0" width="100%" height="100%" filterUnits="userSpaceOnUse" color-interpolation-filters="sRGB"><feOffset dx="0" dy="0"/></filter></defs>
<g font-family='"Liberation Sans", sans-serif' font-size="21.8" fill="#595959" stroke="#595959" stroke-width="0.3" filter="url(#gs)">
<text transform="translate(34.8,49.7) scale(1,1.0)" text-anchor="end">15</text>
<text transform="translate(34.8,119.2) scale(1,1.0)" text-anchor="end">10</text>
<text transform="translate(34.8,188.7) scale(1,1.0)" text-anchor="end">5</text>
<text transform="translate(34.8,258.2) scale(1,1.0)" text-anchor="end">0</text>
<text transform="translate(34.8,327.7) scale(1,1.0)" text-anchor="end">-5</text>
<text transform="translate(34.8,397.2) scale(1,1.0)" text-anchor="end">-10</text>
<text transform="translate(34.8,466.7) scale(1,1.0)" text-anchor="end">-15</text>
<text transform="translate(598.1,49.7) scale(1,1.0)">140</text>
<text transform="translate(598.1,119.2) scale(1,1.0)">120</text>
<text transform="translate(598.1,188.7) scale(1,1.0)">100</text>
<text transform="translate(598.1,258.2) scale(1,1.0)">80</text>
<text transform="translate(598.1,327.7) scale(1,1.0)">60</text>
<text transform="translate(598.1,397.2) scale(1,1.0)">40</text>
<text transform="translate(598.1,466.7) scale(1,1.0)">20</text>
<text transform="translate(80.0,489.0) scale(1,1.0)" text-anchor="middle">8</text>
<text transform="translate(132.5,489.0) scale(1,1.0)" text-anchor="middle">11</text>
<text transform="translate(185.0,489.0) scale(1,1.0)" text-anchor="middle">14</text>
<text transform="translate(237.5,489.0) scale(1,1.0)" text-anchor="middle">17</text>
<text transform="translate(290.0,489.0) scale(1,1.0)" text-anchor="middle">20</text>
<text transform="translate(342.5,489.0) scale(1,1.0)" text-anchor="middle">23</text>
<text transform="translate(395.0,489.0) scale(1,1.0)" text-anchor="middle">26</text>
<text transform="translate(447.5,489.0) scale(1,1.0)" text-anchor="middle">29</text>
<text transform="translate(500.0,489.0) scale(1,1.0)" text-anchor="middle">1</text>
<text transform="translate(552.5,489.0) scale(1,1.0)" text-anchor="middle">4</text>
</g>
<text x="4.2" y="27.2" font-family='"Liberation Sans", "Noto Sans CJK JP", sans-serif' font-size="21" fill="#595959">積雪以外</text>
<text x="287" y="27.2" font-family='"Liberation Sans", "Noto Sans CJK JP", sans-serif' font-size="21" fill="#595959">四番川</text>
<text x="589.3" y="27.2" font-family='"Liberation Sans", "Noto Sans CJK JP", sans-serif' font-size="21" fill="#595959">積雪</text>
</svg>
</body></html>
